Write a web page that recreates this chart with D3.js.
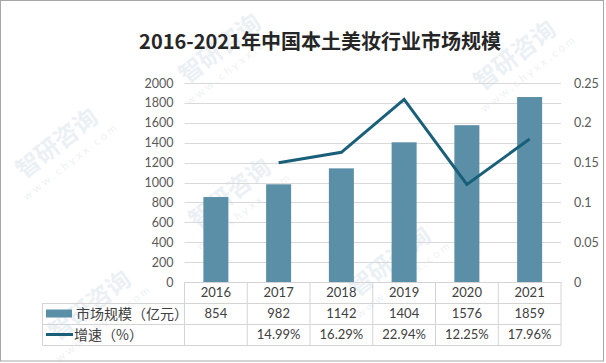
<!DOCTYPE html>
<html>
<head>
<meta charset="utf-8">
<script src="https://cdn.jsdelivr.net/npm/d3@7"></script>
<style>
body{margin:0;background:#fff;}
svg{display:block;}
</style>
</head>
<body>
<div id="chart"></div>
<script>
var years=["2016","2017","2018","2019","2020","2021"];
var marketSize=[854,982,1142,1404,1576,1859];
var growth=[null,0.1499,0.1629,0.2294,0.1225,0.1796];
var growthLabels=["","14.99%","16.29%","22.94%","12.25%","17.96%"];
var leftTicks=[0,200,400,600,800,1000,1200,1400,1600,1800,2000];
var rightTicks=[0,0.05,0.1,0.15,0.2,0.25];

var width=606,height=363;
var plot={left:184.5,right:561,top:83,bottom:282};
var rowH=21;
var barColor="#5b8ea7",lineColor="#1a5f7a",gridColor="#d9d9d9",tableColor="#d4d4d4";
var numFont="Lato, 'Liberation Sans', sans-serif";
var cjkFont="'Noto Sans CJK SC', sans-serif";

var svg=d3.select("#chart").append("svg").attr("width",width).attr("height",height);

// border
svg.append("rect").attr("x",0.5).attr("y",0.5).attr("width",603).attr("height",360.5)
.attr("fill","#fff").attr("stroke","#a6a6a6");

// watermarks
var marks=[[225,55],[520,62],[62,150],[235,200],[395,268],[95,312]];
marks.forEach(function(m){
  var g=svg.append("g").attr("transform","translate("+m[0]+","+m[1]+") rotate(-38)").attr("opacity",0.16);
  g.append("text").attr("text-anchor","middle").attr("font-family",cjkFont).attr("font-weight","bold")
  .attr("font-size",24).attr("fill","#8aa6c8").text("智研咨询");
  g.append("text").attr("text-anchor","middle").attr("y",18).attr("font-family",numFont)
  .attr("font-size",11).attr("letter-spacing",3).attr("fill","#9aaac0").text("www.chyxx.com");
});

var x=d3.scaleBand().domain(years).range([plot.left,plot.right]);
var y=d3.scaleLinear().domain([0,2000]).range([plot.bottom,plot.top]);
var y2=d3.scaleLinear().domain([0,0.25]).range([plot.bottom,plot.top]);

// gridlines
svg.append("g").selectAll("line").data(leftTicks.filter(d=>d>0)).enter().append("line")
.attr("x1",plot.left).attr("x2",plot.right)
.attr("y1",d=>Math.round(y(d))+0.5).attr("y2",d=>Math.round(y(d))+0.5)
.attr("stroke",gridColor);

// left axis
var leftAxis=svg.append("g").attr("transform","translate("+(plot.left-11)+",0)")
.call(d3.axisLeft(y).tickValues(leftTicks).tickFormat(d=>String(d)).tickSize(0).tickPadding(0));
leftAxis.select(".domain").remove();
leftAxis.selectAll("text").attr("font-family",numFont).attr("font-size",12.5).attr("fill","#595959");

// right axis
var rightAxis=svg.append("g").attr("transform","translate("+(plot.right+13)+",0)")
.call(d3.axisRight(y2).tickValues(rightTicks).tickFormat(d=>String(d)).tickSize(0).tickPadding(0));
rightAxis.select(".domain").remove();
rightAxis.selectAll("text").attr("font-family",numFont).attr("font-size",12.5).attr("fill","#595959");

// bars
var barW=25;
svg.append("g").selectAll("rect").data(marketSize).enter().append("rect")
.attr("x",(d,i)=>x(years[i])+x.bandwidth()/2-barW/2)
.attr("y",d=>y(d))
.attr("width",barW)
.attr("height",d=>plot.bottom-y(d))
.attr("fill",barColor);

// line
var line=d3.line().defined(d=>d.v!=null).x(d=>x(d.k)+x.bandwidth()/2).y(d=>y2(d.v));
svg.append("path").datum(years.map((k,i)=>({k:k,v:growth[i]})))
.attr("d",line).attr("fill","none").attr("stroke",lineColor).attr("stroke-width",3)
.attr("stroke-linejoin","miter");

// title
svg.append("text").attr("x",320).attr("y",49).attr("text-anchor","middle")
.attr("font-family",cjkFont).attr("font-weight","bold").attr("font-size",20).attr("fill","#262626")
.text("2016-2021年中国本土美妆行业市场规模");

// data table
var t=svg.append("g");
var tableLeft=42.5;
var rows=[plot.bottom,plot.bottom+rowH,plot.bottom+2*rowH,plot.bottom+3*rowH];
t.append("line").attr("x1",plot.left).attr("x2",plot.right).attr("y1",rows[0]+0.5).attr("y2",rows[0]+0.5).attr("stroke",tableColor);
[1,2,3].forEach(function(r){
  t.append("line").attr("x1",tableLeft).attr("x2",plot.right).attr("y1",rows[r]+0.5).attr("y2",rows[r]+0.5).attr("stroke",tableColor);
});
t.append("line").attr("x1",tableLeft).attr("x2",tableLeft).attr("y1",rows[1]).attr("y2",rows[3]).attr("stroke",tableColor);
years.map(k=>x(k)).concat([plot.right]).forEach(function(xx){
  t.append("line").attr("x1",xx).attr("x2",xx).attr("y1",rows[0]).attr("y2",rows[3]).attr("stroke",tableColor);
});

function cells(data,r){
  t.append("g").selectAll("text").data(data).enter().append("text")
  .attr("x",(d,i)=>x(years[i])+x.bandwidth()/2)
  .attr("y",(rows[r]+rows[r+1])/2+4.5)
  .attr("text-anchor","middle").attr("font-family",numFont).attr("font-size",13).attr("fill","#404040")
  .text(d=>d);
}
cells(years,0);
cells(marketSize,1);
cells(growthLabels,2);

// legend keys
t.append("rect").attr("x",46).attr("y",(rows[1]+rows[2])/2-4).attr("width",26).attr("height",8).attr("fill",barColor);
t.append("line").attr("x1",46).attr("x2",73).attr("y1",(rows[2]+rows[3])/2).attr("y2",(rows[2]+rows[3])/2)
.attr("stroke",lineColor).attr("stroke-width",3);
t.append("text").attr("x",76).attr("y",(rows[1]+rows[2])/2+5).attr("font-family",cjkFont).attr("font-size",14).attr("fill","#404040").text("市场规模（亿元）");
t.append("text").attr("x",74).attr("y",(rows[2]+rows[3])/2+5).attr("font-family",cjkFont).attr("font-size",14).attr("fill","#404040").text("增速（%）");
</script>
</body>
</html>
